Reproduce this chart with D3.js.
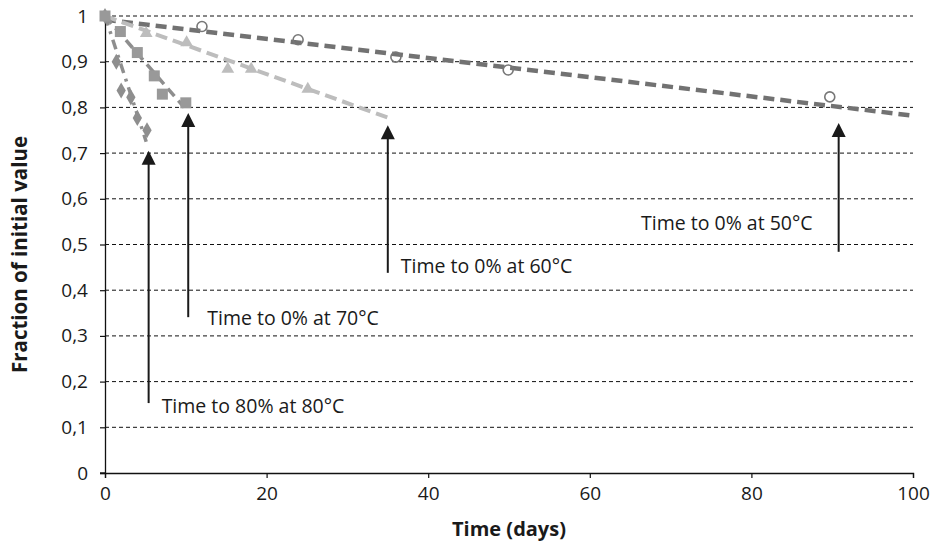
<!DOCTYPE html>
<html>
<head>
<meta charset="utf-8">
<script src="https://cdn.jsdelivr.net/npm/d3@7"></script>
<style>
  body { margin: 0; background: #fff; }
  svg { display: block; font-family: "Open Sans", "Noto Sans", sans-serif; }
</style>
</head>
<body>
<div id="chart"></div>
<script>
// measured points (days, fraction of initial value)
const days80 = [0, 1.4, 2, 3.2, 4, 5.2];
const frac80 = [1, 0.90, 0.837, 0.822, 0.777, 0.75];
const days70 = [0, 1.9, 4, 6.1, 7.1, 10];
const frac70 = [1, 0.966, 0.92, 0.869, 0.829, 0.81];
const days60 = [0, 5.1, 10.1, 15.2, 18.1, 25.1];
const frac60 = [1, 0.962, 0.942, 0.884, 0.884, 0.84];
const days50 = [0, 12, 23.9, 36, 49.9, 89.7];
const frac50 = [1, 0.977, 0.948, 0.91, 0.882, 0.823];

// trend lines (start, end)
const trendDays80 = [0, 5.1], trendFrac80 = [1, 0.725];
const trendDays70 = [0, 9.8], trendFrac70 = [1, 0.80];
const trendDays60 = [0, 35.4], trendFrac60 = [1, 0.775];
const trendDays50 = [0, 100], trendFrac50 = [0.992, 0.782];

// arrows
const arrowDays = [5.4, 10.3, 35.0, 90.8];
const arrowTip = [0.705, 0.788, 0.761, 0.766];
const arrowTail = [0.153, 0.341, 0.438, 0.484];
const arrowLabels = ["Time to 80% at 80°C", "Time to 0% at 70°C", "Time to 0% at 60°C", "Time to 0% at 50°C"];

const xTicks = [0, 20, 40, 60, 80, 100];
const yTicks = [0, 0.1, 0.2, 0.3, 0.4, 0.5, 0.6, 0.7, 0.8, 0.9, 1];

const width = 934;
const height = 543;
const marginTop = 16;
const marginRight = 21;
const marginBottom = 70;
const marginLeft = 105;

const x = d3.scaleLinear()
    .domain([0, 100])
    .range([marginLeft, width - marginRight]);
const y = d3.scaleLinear()
    .domain([0, 1])
    .range([height - marginBottom, marginTop]);

const svg = d3.select("#chart")
    .append("svg")
    .attr("width", width)
    .attr("height", height);

// grid
svg.append("g")
    .selectAll("line")
    .data(yTicks.filter(d => d > 0))
    .join("line")
    .attr("x1", x(0)).attr("x2", x(100))
    .attr("y1", d => y(d)).attr("y2", d => y(d))
    .attr("stroke", "#111")
    .attr("stroke-width", 1)
    .attr("stroke-dasharray", "4,3");

// axes
const fmt = d => d3.format(".1~f")(d).replace(".", ",");
const yAxis = svg.append("g")
    .attr("transform", `translate(${marginLeft},0)`)
    .call(d3.axisLeft(y).tickValues(yTicks).tickFormat(fmt).tickSize(5).tickPadding(12));
const xAxis = svg.append("g")
    .attr("transform", `translate(0,${height - marginBottom})`)
    .call(d3.axisBottom(x).tickValues(xTicks).tickSize(5).tickPadding(9));
[xAxis, yAxis].forEach(g => {
    g.select(".domain").attr("stroke", "#111").attr("stroke-width", 1.3);
    g.selectAll(".tick line").attr("stroke", "#111").attr("stroke-width", 1.2);
    g.selectAll("text").attr("font-size", 19).attr("fill", "#1a1a1a")
        .attr("font-family", "'Open Sans', sans-serif");
});
// extend x axis slightly past y axis
svg.append("line")
    .attr("x1", x(0) - 5).attr("x2", x(0))
    .attr("y1", y(0)).attr("y2", y(0))
    .attr("stroke", "#111").attr("stroke-width", 1.3);

// axis titles
svg.append("text")
    .attr("x", (x(0) + x(100)) / 2)
    .attr("y", 536)
    .attr("text-anchor", "middle")
    .attr("font-size", 20)
    .attr("font-weight", "bold")
    .attr("fill", "#1a1a1a")
    .text("Time (days)");
svg.append("text")
    .attr("transform", `translate(27,${(y(0) + y(1)) / 2 + 10}) rotate(-90)`)
    .attr("text-anchor", "middle")
    .attr("font-size", 20.5)
    .attr("font-weight", "bold")
    .attr("fill", "#1a1a1a")
    .text("Fraction of initial value");

// trend lines
const line = d3.line().x(d => x(d[0])).y(d => y(d[1]));
const trends = [
    { d: d3.zip(trendDays50, trendFrac50), color: "#727272", w: 4.5, dash: "11,6" },
    { d: d3.zip(trendDays60, trendFrac60), color: "#bdbdbd", w: 4, dash: "12,6" },
    { d: d3.zip(trendDays70, trendFrac70), color: "#8e8e8e", w: 3.5, dash: "10,6" },
    { d: d3.zip(trendDays80, trendFrac80), color: "#8e8e8e", w: 3.5, dash: "10,6,3,6" }
];

// markers
const pts = svg.append("g");
pts.selectAll(".c50")
    .data(d3.zip(days50, frac50).slice(1))
    .join("circle")
    .attr("cx", d => x(d[0])).attr("cy", d => y(d[1]))
    .attr("r", 5)
    .attr("fill", "none")
    .attr("stroke", "#777")
    .attr("stroke-width", 1.6);

trends.forEach(t => {
    svg.append("path")
        .datum(t.d)
        .attr("fill", "none")
        .attr("stroke", t.color)
        .attr("stroke-width", t.w)
        .attr("stroke-dasharray", t.dash)
        .attr("d", line);
});

const sym = (type, size) => d3.symbol().type(type).size(size)();
pts.append("g").selectAll("path")
    .data(d3.zip(days60, frac60).slice(1))
    .join("path")
    .attr("transform", d => `translate(${x(d[0])},${y(d[1])})`)
    .attr("d", sym(d3.symbolTriangle, 70))
    .attr("fill", "#bdbdbd");
pts.append("g").selectAll("path")
    .data(d3.zip(days80, frac80))
    .join("path")
    .attr("transform", d => `translate(${x(d[0])},${y(d[1])})`)
    .attr("d", sym(d3.symbolDiamond, 75))
    .attr("fill", "#8e8e8e");
pts.append("g").selectAll("rect")
    .data(d3.zip(days70, frac70))
    .join("rect")
    .attr("x", d => x(d[0]) - 5.5).attr("y", d => y(d[1]) - 5.5)
    .attr("width", 11).attr("height", 11)
    .attr("fill", "#999");
pts.raise();

// arrows and labels
const labelOffset = [[13, 10], [19, 8], [13, 0], [-26, -22]];
const arrows = svg.append("g");
arrowDays.forEach((d, i) => {
    arrows.append("line")
        .attr("x1", x(d)).attr("x2", x(d))
        .attr("y1", y(arrowTail[i])).attr("y2", y(arrowTip[i]) + 12)
        .attr("stroke", "#1a1a1a")
        .attr("stroke-width", 2);
    arrows.append("path")
        .attr("d", `M${x(d)},${y(arrowTip[i])} l7,14 l-14,0 Z`)
        .attr("fill", "#1a1a1a");
    const [dx, dy] = labelOffset[i];
    arrows.append("text")
        .attr("x", x(d) + dx)
        .attr("y", y(arrowTail[i]) + dy)
        .attr("text-anchor", dx < 0 ? "end" : "start")
        .attr("font-size", 19.5)
        .attr("fill", "#1a1a1a")
        .text(arrowLabels[i]);
});
</script>
</body>
</html>
